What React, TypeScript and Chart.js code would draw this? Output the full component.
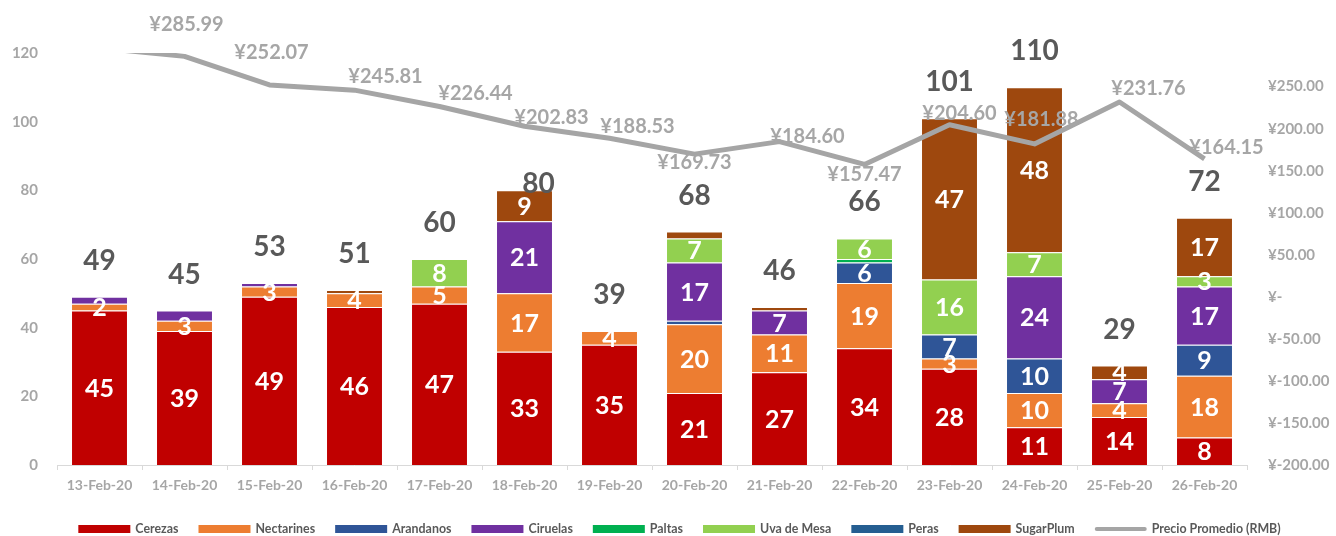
import React, { useEffect, useRef } from 'react';
import { Chart, registerables } from 'chart.js';

Chart.register(...registerables);

const categories = ['13-Feb-20', '14-Feb-20', '15-Feb-20', '16-Feb-20', '17-Feb-20', '18-Feb-20', '19-Feb-20', '20-Feb-20', '21-Feb-20', '22-Feb-20', '23-Feb-20', '24-Feb-20', '25-Feb-20', '26-Feb-20'];
const cerezas = [45, 39, 49, 46, 47, 33, 35, 21, 27, 34, 28, 11, 14, 8];
const nectarines = [2, 3, 3, 4, 5, 17, 4, 20, 11, 19, 3, 10, 4, 18];
const arandanos = [0, 0, 0, 0, 0, 0, 0, 1, 0, 6, 7, 10, 0, 9];
const ciruelas = [2, 3, 1, 0, 0, 21, 0, 17, 7, 0, 0, 24, 7, 17];
const paltas = [0, 0, 0, 0, 0, 0, 0, 0, 0, 1, 0, 0, 0, 0];
const uvaDeMesa = [0, 0, 0, 0, 8, 0, 0, 7, 0, 6, 16, 7, 0, 3];
const peras = [0, 0, 0, 0, 0, 0, 0, 0, 0, 0, 0, 0, 0, 0];
const sugarPlum = [0, 0, 0, 1, 0, 9, 0, 2, 1, 0, 47, 48, 4, 17];
const precioPromedio = [296, 285.99, 252.07, 245.81, 226.44, 202.83, 188.53, 169.73, 184.6, 157.47, 204.6, 181.88, 231.76, 164.15];

const leftTickValues = [0, 20, 40, 60, 80, 100, 120];
const rightTickValues = [-200, -150, -100, -50, 0, 50, 100, 150, 200, 250];

// label placement tweaks (pixels), styling only
const priceLabelOffsets: (number[] | null)[] = [null, [2, -33], [2, -33], [31, -14], [36, -14], [27, -9], [28, -13], [0, 8], [28, -6], [0, 9], [10, -12], [7, -25], [29, -14], [22, -12]];
const totalLabelOffsets: number[][] = [[0, -37], [0, -37], [0, -37], [0, -37], [0, -37], [14, -7], [0, -37], [0, -37], [0, -37], [0, -37], [0, -37], [0, -37], [0, -37], [0, -37]];

const FONT = 'Lato, "Open Sans", sans-serif';

const barSeries = [
  { name: 'Cerezas', values: cerezas, color: '#C00000', minLabel: 1 },
  { name: 'Nectarines', values: nectarines, color: '#ED7D31', minLabel: 1 },
  { name: 'Arandanos', values: arandanos, color: '#2F5597', minLabel: 4 },
  { name: 'Ciruelas', values: ciruelas, color: '#7030A0', minLabel: 4 },
  { name: 'Paltas', values: paltas, color: '#00B050', minLabel: 4 },
  { name: 'Uva de Mesa', values: uvaDeMesa, color: '#92D050', minLabel: 1 },
  { name: 'Peras', values: peras, color: '#255E91', minLabel: 4 },
  { name: 'SugarPlum', values: sugarPlum, color: '#9E480E', minLabel: 4 },
];
const lineName = 'Precio Promedio (RMB)';
const lineColor = '#A5A5A5';

function drawCentered(ctx: CanvasRenderingContext2D, text: string, x: number, cy: number, size: number, color: string) {
  ctx.font = `bold ${size}px ${FONT}`;
  ctx.fillStyle = color;
  ctx.textAlign = 'center';
  ctx.textBaseline = 'alphabetic';
  ctx.fillText(text, x, cy + size * 0.36);
}

const labelsPlugin = {
  id: 'customLabels',
  afterDatasetsDraw(chart: any) {
    const ctx = chart.ctx as CanvasRenderingContext2D;
    ctx.save();
    barSeries.forEach((s, di) => {
      const meta = chart.getDatasetMeta(di);
      s.values.forEach((v, j) => {
        if (v < s.minLabel) return;
        const el = meta.data[j];
        drawCentered(ctx, String(v), el.x, (el.y + el.base) / 2, 25, '#FFFFFF');
      });
    });
    const xs = chart.scales.x;
    const ys = chart.scales.y;
    categories.forEach((_, j) => {
      let total = 0;
      barSeries.forEach((s) => (total += s.values[j]));
      const off = totalLabelOffsets[j];
      drawCentered(ctx, String(total), xs.getPixelForValue(j) + off[0], ys.getPixelForValue(total) + off[1], 28, '#595959');
    });
    const y1 = chart.scales.y1;
    precioPromedio.forEach((v, j) => {
      const off = priceLabelOffsets[j];
      if (!off) return;
      drawCentered(ctx, '¥' + v.toFixed(2), xs.getPixelForValue(j) + off[0], y1.getPixelForValue(v) + off[1], 20, '#A6A6A6');
    });
    ctx.restore();
  },
  afterDraw(chart: any) {
    const ctx = chart.ctx as CanvasRenderingContext2D;
    ctx.save();
    const fs = 12.4;
    ctx.font = `bold ${fs}px ${FONT}`;
    const items = [
      ...barSeries.map((s) => ({ name: s.name, color: s.color, line: false })),
      { name: lineName, color: lineColor, line: true },
    ];
    const boxW = 52;
    const gapText = 5;
    const gapItem = 20;
    const widths = items.map((it) => ctx.measureText(it.name).width);
    let total = 0;
    widths.forEach((w) => (total += boxW + gapText + w));
    total += gapItem * (items.length - 1);
    let x = 679.5 - total / 2;
    const cy = 529;
    items.forEach((it, i) => {
      if (it.line) {
        ctx.strokeStyle = it.color;
        ctx.lineWidth = 4;
        ctx.lineCap = 'round';
        ctx.beginPath();
        ctx.moveTo(x + 2, cy);
        ctx.lineTo(x + boxW - 2, cy);
        ctx.stroke();
      } else {
        ctx.fillStyle = it.color;
        ctx.fillRect(x, cy - 4, boxW, 8);
      }
      ctx.fillStyle = '#595959';
      ctx.textAlign = 'left';
      ctx.textBaseline = 'alphabetic';
      ctx.fillText(it.name, x + boxW + gapText, cy + fs * 0.36);
      x += boxW + gapText + widths[i] + gapItem;
    });
    ctx.restore();
  },
};

export default function App() {
  const canvasRef = useRef<HTMLCanvasElement | null>(null);

  useEffect(() => {
    if (!canvasRef.current) return;
    const tickFont = { family: FONT, weight: 'bold' as const, size: 15 };
    const chart = new Chart(canvasRef.current, {
      type: 'bar',
      data: {
        labels: categories,
        datasets: [
          ...barSeries.map((s) => ({
            type: 'bar' as const,
            label: s.name,
            data: s.values,
            backgroundColor: s.color,
            borderColor: 'rgba(255,255,255,0.55)',
            borderWidth: 1,
            barPercentage: 0.67,
            categoryPercentage: 1,
            yAxisID: 'y',
            order: 1,
          })),
          {
            type: 'line' as const,
            label: lineName,
            data: precioPromedio,
            borderColor: lineColor,
            backgroundColor: lineColor,
            borderWidth: 5,
            pointRadius: 0,
            tension: 0,
            borderJoinStyle: 'round' as const,
            yAxisID: 'y1',
            order: 0,
            clip: 0,
          } as any,
        ],
      },
      options: {
        animation: false,
        responsive: true,
        maintainAspectRatio: false,
        layout: { padding: { top: 53, bottom: 41, left: 0, right: 0 } },
        plugins: { legend: { display: false }, tooltip: { enabled: false } },
        scales: {
          x: {
            stacked: true,
            grid: { display: true, drawOnChartArea: false, drawTicks: true, tickLength: 5, color: '#D9D9D9', offset: true },
            border: { display: true, color: '#D9D9D9', width: 1 },
            ticks: { color: '#A6A6A6', font: { family: FONT, weight: 'bold', size: 14 }, padding: 7, maxRotation: 0 },
            afterFit: (scale: any) => {
              scale.height = 30;
            },
          },
          y: {
            stacked: true,
            position: 'left',
            min: 0,
            max: 120,
            grid: { display: false, drawTicks: false },
            border: { display: false },
            ticks: { color: '#A6A6A6', font: tickFont, padding: 19 },
            afterBuildTicks: (scale: any) => {
              scale.ticks = leftTickValues.map((v) => ({ value: v }));
            },
            afterFit: (scale: any) => {
              scale.width = 57;
            },
          },
          y1: {
            position: 'right',
            min: -200,
            max: 290,
            grid: { display: false, drawTicks: false },
            border: { display: false },
            ticks: {
              color: '#A6A6A6',
              font: tickFont,
              padding: 21,
              callback: (v: any) => (Number(v) === 0 ? '¥-' : '¥' + Number(v).toFixed(2)),
            },
            afterBuildTicks: (scale: any) => {
              scale.ticks = rightTickValues.map((v) => ({ value: v }));
            },
            afterFit: (scale: any) => {
              scale.width = 89;
            },
          },
        },
      } as any,
      plugins: [labelsPlugin],
    });
    let alive = true;
    if ((document as any).fonts && (document as any).fonts.load) {
      Promise.all([
        (document as any).fonts.load(`bold 20px Lato`),
      ]).then(() => {
        if (alive) chart.update();
      }).catch(() => {});
    }
    return () => {
      alive = false;
      chart.destroy();
    };
  }, []);

  return (
    <div style={{ position: 'absolute', left: 0, top: 0, width: 1336, height: 536, background: '#FFFFFF' }}>
      <canvas ref={canvasRef} />
    </div>
  );
}
